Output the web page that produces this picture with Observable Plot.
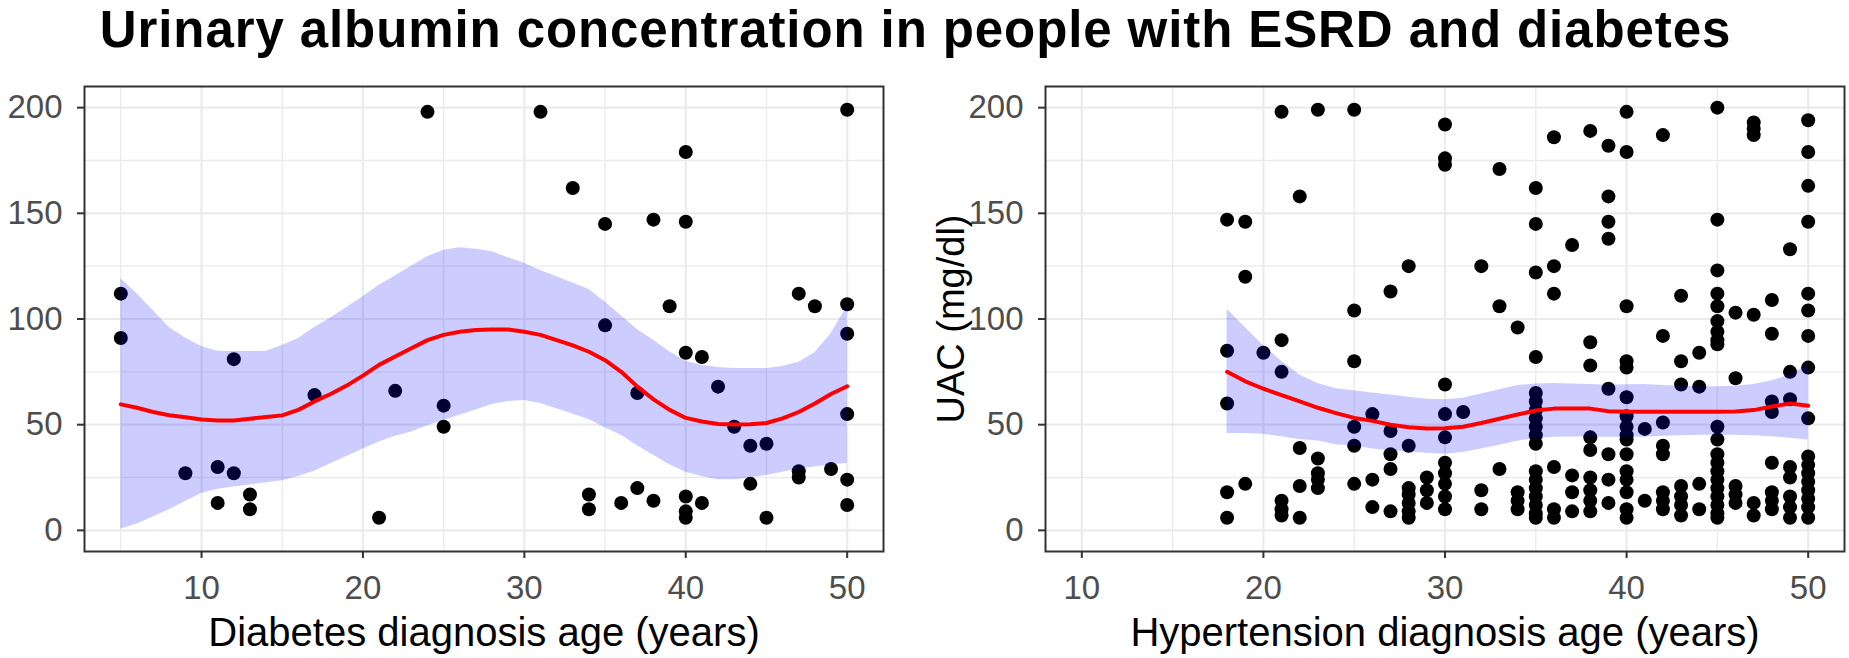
<!DOCTYPE html>
<html>
<head>
<meta charset="utf-8">
<script src="https://cdn.jsdelivr.net/npm/d3@7"></script>
<script src="https://cdn.jsdelivr.net/npm/@observablehq/plot@0.6"></script>
<style>
  body { margin: 0; background: #fff; font-family: "Liberation Sans", Arial, sans-serif; }
  #wrap { position: relative; width: 1849px; height: 658px; overflow: hidden; background: #fff; }
  #title { position: absolute; top: 0px; left: -9px; width: 1849px; text-align: center;
           font-weight: bold; font-size: 51px; letter-spacing: 0.9px; line-height: normal; color: #000; white-space: nowrap; }
  #panels { position: absolute; top: 76px; left: 0; display: flex; }
</style>
</head>
<body>
<div id="wrap">
  <div id="title">Urinary albumin concentration in people with ESRD and diabetes</div>
  <div id="panels"></div>
</div>
<script>
const FONT = "Liberation Sans, Arial, sans-serif";

// ---- axis ticks ----
const xTicks = [10, 20, 30, 40, 50];
const yTicks = [0, 50, 100, 150, 200];
const yMinor = [25, 75, 125, 175];
const leftXMinor = [5, 15, 25, 35, 45];
const rightXMinor = [15, 25, 35, 45];

// ---- left panel: diabetes diagnosis age ----
const diabetesAges = [5, 9, 11, 12, 13, 17, 21, 22, 24, 25, 31, 33, 34, 35, 36, 37, 38, 39, 40, 41, 42, 43, 44, 45, 47, 48, 49, 50];
const diabetesUAC = [
  [112, 91], [27], [30, 13], [81, 27], [17, 10], [64], [6], [66], [198], [59, 49],
  [198], [162], [17, 10], [145, 97], [13], [65, 20], [147, 14], [106],
  [179, 146, 84, 16, 9, 6], [82, 13], [68], [49], [40, 22], [41, 6],
  [112, 28, 25], [106], [29], [199, 107, 93, 55, 24, 12]
];
const diabetesFitX = [5,6,7,8,9,10,11,12,13,14,15,16,17,18,19,20,21,22,23,24,25,26,27,28,29,30,31,32,33,34,35,36,37,38,39,40,41,42,43,44,45,46,47,48,49,50];
const diabetesFit = [59.6,58,56,54.5,53.5,52.5,52,52,52.8,53.6,54.4,57,61,64.5,68.5,73.2,78.3,82.3,86.2,90,92.5,94,94.8,95,95,94,92.5,90,87.5,84.5,80.5,75,68,62,57,53.2,51.5,50.3,50.1,50.2,50.8,53,56,60,64.5,68.2];
const diabetesHi = [119,112,104,96,91,87,84.8,84.6,84.6,84.8,87.5,90.8,96,100.5,105.5,110.5,116,120.3,125,129.5,132.5,133.7,133,131.8,129,126.4,123,120,117,114,108,101.5,95,90,84.5,80,78,77,76.6,76.6,76.6,77.5,79.5,84,93,106];
const diabetesLo = [0.5,3,6.3,9.8,13.6,17.4,19.5,20.5,21.5,22.5,23.5,25.5,28,31.5,35,38.5,41.8,44.5,46.5,49.5,52,54.5,57,59.5,61,61.5,60,57.5,55,52.5,48.5,45,40,35.5,31,27.5,25.5,24,24,24.8,26,27.5,29,30,31,31.6];

// ---- right panel: hypertension diagnosis age ----
const hyperAges = [18,19,20,21,22,23,25,26,27,28,29,30,31,32,33,34,35,36,37,38,39,40,41,42,43,44,45,46,47,48,49,50];
const hyperUAC = [
  [147,85,60,18,6],
  [146,120,22],
  [84],
  [198,90,75,14,10,7],
  [158,39,21,6],
  [199,34,27,24,20],
  [199,104,80,49,40,22],
  [55,24,11],
  [113,47,36,29,9],
  [125,40,20,17,13,9,6],
  [25,19,13],
  [192,176,173,69,55,44,32,27,22,16,10],
  [56],
  [125,19,10],
  [171,106,29],
  [96,18,14,10],
  [162,145,122,82,65,61,57,53,49,45,41,28,24,20,16,12,8,6],
  [186,125,112,30,10,6],
  [135,26,18,9],
  [189,89,78,44,38,25,19,14,9],
  [182,158,146,138,67,36,24,13],
  [198,179,106,80,77,63,54,49,45,43,36,28,24,18,10,6],
  [48,14],
  [187,92,51,40,36,18,14,10],
  [111,80,69,21,16,12,7],
  [84,68,22,10],
  [200,147,123,112,106,99,94,90,88,49,43,36,32,28,24,20,16,12,8,6],
  [103,72,21,17,13],
  [193,190,187,102,13,7],
  [109,93,61,56,32,18,14,10],
  [133,75,62,30,25,16,11,6],
  [194,179,163,146,112,104,92,77,53,35,31,27,23,19,15,11,6]
];
const hyperFitX = [18,19,20,21,22,23,24,25,26,27,28,29,30,31,32,33,34,35,36,37,38,39,40,41,42,43,44,45,46,47,48,49,50];
const hyperFit = [75,70.5,67,64,61,58,55.5,53.2,51.8,50,48.8,48.2,48.3,49,50.8,52.8,54.8,56.7,57.6,57.6,57.6,56.4,56.1,56.1,56.1,56.1,56.1,56.1,56.2,56.9,58.6,60,59];
const hyperHi = [104.6,96,87.5,80,73.5,69.5,67,66,65,64,63,62,61.8,62.5,64.5,66.5,68.5,69.2,69.5,69.2,69,68.7,68.9,69,68.5,68.2,68,68,68.2,69,70.8,73.5,78.2];
const hyperLo = [45.8,45.8,45.5,44.3,43,42.3,40.5,40,38.5,37.8,37,36.5,36,36.8,38.5,40.3,42.2,43.5,44,44.2,44.2,44,44,44.1,44.5,44.8,45,45,45,44.8,44.3,43.6,42.7];

function flatten(ages, values) {
  const rows = [];
  ages.forEach((a, i) => values[i].forEach(v => rows.push({x: a, y: v})));
  return rows;
}
function fitRows(xs, fit, lo, hi) {
  return xs.map((x, i) => ({x, y: fit[i], lo: lo[i], hi: hi[i]}));
}

function panel({width, marginLeft, marginRight, xDomain, xMinor, pts, fit, xLabel, yLabel}) {
  const grid = "#EBEBEB";
  const marks = [
    Plot.ruleX(xMinor, {stroke: grid, strokeWidth: 1.4}),
    Plot.ruleY(yMinor, {stroke: grid, strokeWidth: 1.4}),
    Plot.ruleX(xTicks, {stroke: grid, strokeWidth: 2.2}),
    Plot.ruleY(yTicks, {stroke: grid, strokeWidth: 2.2}),
    Plot.dot(pts, {x: "x", y: "y", r: 7, fill: "black", stroke: "none"}),
    Plot.areaY(fit, {x: "x", y1: "lo", y2: "hi", fill: "blue", fillOpacity: 0.2}),
    Plot.line(fit, {x: "x", y: "y", stroke: "red", strokeWidth: 4}),
    Plot.frame({stroke: "#333333", strokeWidth: 2}),
    Plot.axisX(xTicks, {tickSize: 7, tickPadding: 17, fontSize: 33, stroke: "#333333", strokeWidth: 2,
      fill: "#4D4D4D", label: null, tickFormat: d => String(d)}),
    Plot.axisY(yTicks, {tickSize: 7, tickPadding: 15, fontSize: 33, stroke: "#333333", strokeWidth: 2,
      fill: "#4D4D4D", label: null, tickFormat: d => String(d)}),
    Plot.text([xLabel], {text: d => d, frameAnchor: "bottom", textAnchor: "middle", lineAnchor: "bottom", dy: 94,
      fontSize: 40, fill: "black"})
  ];
  if (yLabel) {
    marks.push(Plot.text([yLabel], {text: d => d, frameAnchor: "left", textAnchor: "middle", lineAnchor: "middle",
      rotate: -90, dx: -94, fontSize: 38, fill: "black"}));
  }
  return Plot.plot({
    width, height: 582,
    marginLeft, marginRight, marginTop: 10, marginBottom: 107,
    style: {fontFamily: FONT, background: "white", overflow: "visible"},
    x: {domain: xDomain},
    y: {domain: [-10, 210]},
    marks
  });
}

const host = document.getElementById("panels");
host.appendChild(panel({
  width: 905, marginLeft: 84, marginRight: 22, xDomain: [2.75, 52.25], xMinor: leftXMinor,
  pts: flatten(diabetesAges, diabetesUAC),
  fit: fitRows(diabetesFitX, diabetesFit, diabetesLo, diabetesHi),
  xLabel: "Diabetes diagnosis age (years)", yLabel: null
}));
host.appendChild(panel({
  width: 944, marginLeft: 140, marginRight: 5, xDomain: [8, 52], xMinor: rightXMinor,
  pts: flatten(hyperAges, hyperUAC),
  fit: fitRows(hyperFitX, hyperFit, hyperLo, hyperHi),
  xLabel: "Hypertension diagnosis age (years)", yLabel: "UAC (mg/dl)"
}));
</script>
</body>
</html>
